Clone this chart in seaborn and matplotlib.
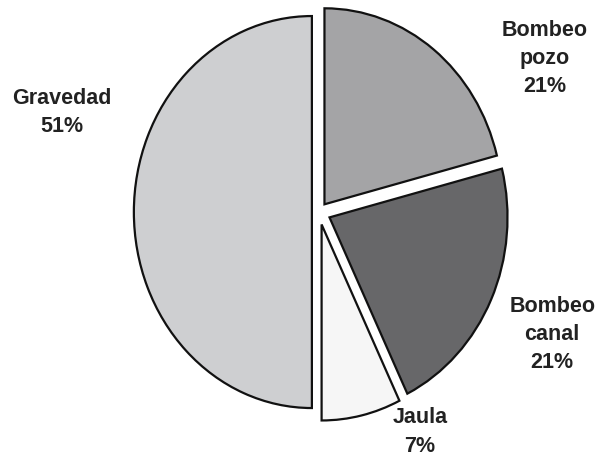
import matplotlib
matplotlib.use("Agg")
import matplotlib.pyplot as plt
import seaborn as sns

# datos del gráfico
categorias = ["Bombeo\npozo", "Bombeo\ncanal", "Jaula", "Gravedad"]
# tamaño de los sectores tal como están dibujados (Gravedad ocupa media tarta)
sectores = [21, 21.8, 7.2, 50]
# porcentajes que muestran las etiquetas
etiquetas_pct = ["21%", "21%", "7%", "51%"]
colores = ["#a4a4a6", "#676769", "#f6f6f6", "#cecfd1"]
separacion = [0.05, 0.065, 0.065, 0.04]

# posiciones de las etiquetas (en unidades del radio)
pos_etiquetas = [(1.27, 0.79), (1.31, -0.62), (0.567, -1.117), (-1.444, 0.515)]

sns.set_theme(style="white")
plt.rcParams["font.family"] = ["Liberation Sans", "DejaVu Sans"]

fig = plt.figure(figsize=(5.96, 4.6), dpi=100)
ax = fig.add_axes([0, 0, 1, 1])

ax.pie(
    sectores,
    colors=colores,
    explode=separacion,
    startangle=90,
    counterclock=False,
    radius=1,
    wedgeprops={"edgecolor": "#111111", "linewidth": 1.6},
)

for cat, pct, (x, y) in zip(categorias, etiquetas_pct, pos_etiquetas):
    ax.text(
        x, y, f"{cat}\n{pct}",
        ha="center", va="center",
        fontsize=15.5, fontweight="bold", color="#222222",
        linespacing=1.45,
    )

# el círculo del original está algo estirado en vertical
ax.set_aspect("auto")
ax.set_xlim(-1.792, 1.556)
ax.set_ylim(-1.260, 1.087)
ax.axis("off")

fig.savefig("out.png", dpi=100)
